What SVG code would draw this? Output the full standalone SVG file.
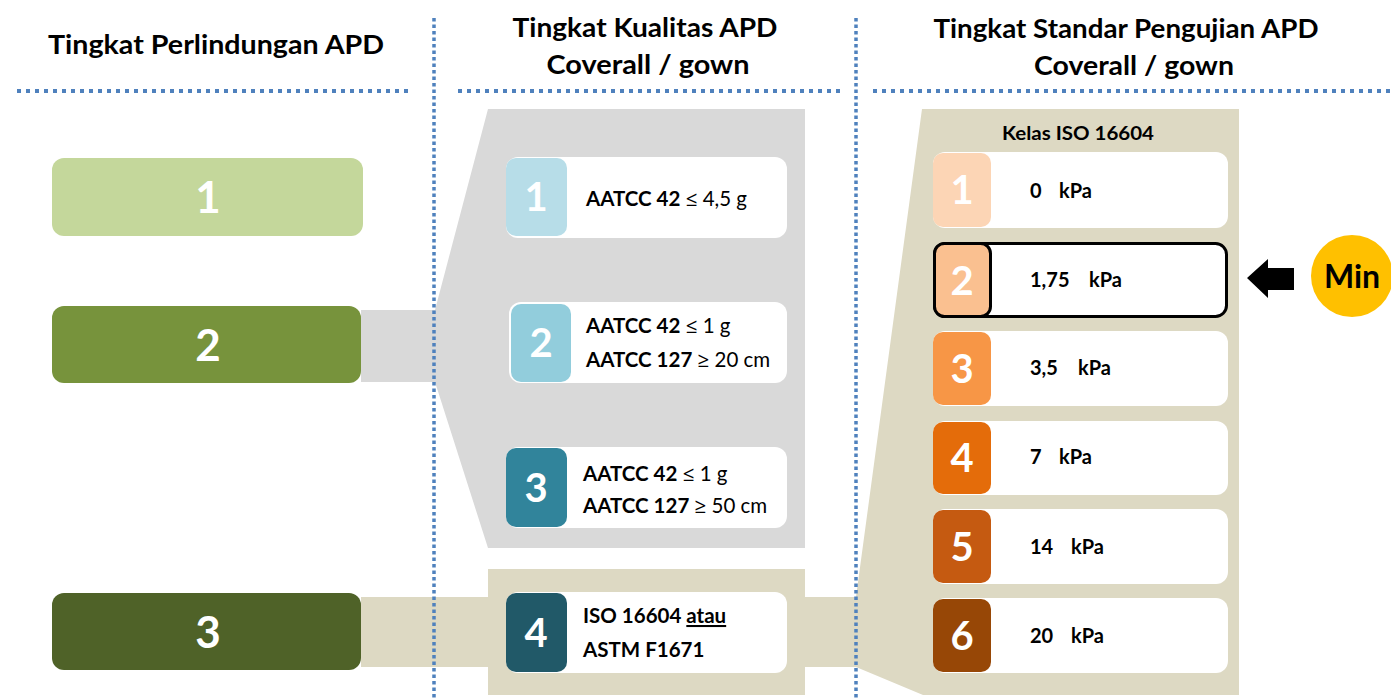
<svg xmlns="http://www.w3.org/2000/svg" width="1391" height="700" viewBox="0 0 1391 700">
<style>
text{font-family:Lato,"Open Sans","Liberation Sans",sans-serif}
.hdr{font-size:26px;font-weight:700;fill:#000;text-anchor:middle}
.big{font-weight:700;fill:#fff;text-anchor:middle}
.lnum{font-size:44px}
.mnum{font-size:40px}
.card{fill:#fff}
.t{font-size:20.5px;fill:#000}
.r{font-size:20px;fill:#000;font-weight:700}
.b{font-weight:700}
.sym{font-family:"Open Sans","Liberation Sans",sans-serif}
.hdot{stroke:#4f81bd;stroke-width:4;stroke-dasharray:4 5;fill:none}
.vdot{stroke:#4f81bd;stroke-width:3.5;stroke-dasharray:3.5 3;fill:none}
.gray{fill:#d9d9d9}
.beige{fill:#ddd9c3}
</style>

<g id="connectors">
  <polygon class="gray" points="361,310 435,310 488,109 805,109 805,548 488,548 435,382 361,382"/>
  <rect class="beige" x="361" y="597" width="130" height="70"/>
  <rect class="beige" x="488" y="569" width="317" height="126"/>
  <polygon class="beige" points="805,597 856,597 922,109 1239,109 1239,695 923,695 856,667 805,667"/>
</g>

<g id="headers">
  <text class="hdr" x="216" y="54" textLength="336" lengthAdjust="spacingAndGlyphs">Tingkat Perlindungan APD</text>
  <text class="hdr" x="645" y="37" textLength="265" lengthAdjust="spacingAndGlyphs">Tingkat Kualitas APD</text>
  <text class="hdr" x="648" y="74" textLength="203" lengthAdjust="spacingAndGlyphs">Coverall / gown</text>
  <text class="hdr" x="1126" y="38" textLength="385" lengthAdjust="spacingAndGlyphs">Tingkat Standar Pengujian APD</text>
  <text class="hdr" x="1134" y="75" textLength="200" lengthAdjust="spacingAndGlyphs">Coverall / gown</text>
</g>

<g id="level-1">
  <rect x="52" y="158" width="311" height="78" rx="12" fill="#c4d79b"/>
  <text class="big lnum" x="208" y="213">1</text>
</g>
<g id="level-2">
  <rect x="52" y="306" width="309" height="77" rx="12" fill="#77933c"/>
  <text class="big lnum" x="208" y="361">2</text>
</g>
<g id="level-3">
  <rect x="52" y="593" width="309" height="77" rx="12" fill="#4f6228"/>
  <text class="big lnum" x="208" y="648">3</text>
</g>

<g id="quality-1">
  <rect class="card" x="506" y="157" width="281" height="81" rx="12"/>
  <rect x="506" y="158" width="61" height="78" rx="10" fill="#b7dde8"/>
  <text class="big mnum" x="536" y="211">1</text>
  <text class="t" x="586" y="206"><tspan class="b">AATCC 42</tspan> <tspan class="sym">≤</tspan> 4,5 g</text>
</g>
<g id="quality-2">
  <rect class="card" x="509" y="302" width="278" height="81" rx="12"/>
  <rect x="511" y="304" width="60" height="78" rx="10" fill="#92cddc"/>
  <text class="big mnum" x="541" y="357">2</text>
  <text class="t" x="586" y="333"><tspan class="b">AATCC 42</tspan> <tspan class="sym">≤</tspan> 1 g</text>
  <text class="t" x="586" y="367"><tspan class="b">AATCC 127</tspan> <tspan class="sym">≥</tspan> 20 cm</text>
</g>
<g id="quality-3">
  <rect class="card" x="506" y="447" width="281" height="81" rx="12"/>
  <rect x="506" y="448" width="61" height="79" rx="10" fill="#31849b"/>
  <text class="big mnum" x="536" y="502">3</text>
  <text class="t" x="583" y="481"><tspan class="b">AATCC 42</tspan> <tspan class="sym">≤</tspan> 1 g</text>
  <text class="t" x="583" y="513"><tspan class="b">AATCC 127</tspan> <tspan class="sym">≥</tspan> 50 cm</text>
</g>
<g id="quality-4">
  <rect class="card" x="506" y="592" width="281" height="81" rx="12"/>
  <rect x="506" y="593" width="61" height="79" rx="10" fill="#215968"/>
  <text class="big mnum" x="536" y="647">4</text>
  <text class="t b" x="583" y="623">ISO 16604 <tspan text-decoration="underline">atau</tspan></text>
  <text class="t b" x="583" y="657">ASTM F1671</text>
</g>

<g id="iso-title">
  <text class="b" x="1078" y="140" font-size="19" text-anchor="middle" textLength="152" lengthAdjust="spacingAndGlyphs">Kelas ISO 16604</text>
</g>

<g id="iso-1">
  <rect class="card" x="933" y="152" width="295" height="76" rx="12"/>
  <rect x="933" y="153" width="58" height="74" rx="10" fill="#fcd5b5"/>
  <text class="big mnum" x="962" y="204">1</text>
  <text class="r" x="1030" y="198">0<tspan x="1059">kPa</tspan></text>
</g>
<g id="iso-2">
  <rect class="card" x="934.5" y="243.5" width="292" height="73" rx="11" stroke="#000" stroke-width="3"/>
  <rect x="934.5" y="243.5" width="56" height="73" rx="10" fill="#fac090" stroke="#000" stroke-width="3"/>
  <text class="big mnum" x="962" y="295">2</text>
  <text class="r" x="1030" y="287">1,75<tspan x="1089">kPa</tspan></text>
</g>
<g id="iso-3">
  <rect class="card" x="933" y="331" width="295" height="75" rx="12"/>
  <rect x="933" y="332" width="58" height="73" rx="10" fill="#f79646"/>
  <text class="big mnum" x="962" y="383">3</text>
  <text class="r" x="1030" y="375">3,5<tspan x="1078">kPa</tspan></text>
</g>
<g id="iso-4">
  <rect class="card" x="933" y="421" width="295" height="74" rx="12"/>
  <rect x="933" y="422" width="58" height="72" rx="10" fill="#e46c0a"/>
  <text class="big mnum" x="962" y="472">4</text>
  <text class="r" x="1030" y="464">7<tspan x="1059">kPa</tspan></text>
</g>
<g id="iso-5">
  <rect class="card" x="933" y="509" width="295" height="75" rx="12"/>
  <rect x="933" y="510" width="58" height="73" rx="10" fill="#c55a11"/>
  <text class="big mnum" x="962" y="561">5</text>
  <text class="r" x="1030" y="554">14<tspan x="1071">kPa</tspan></text>
</g>
<g id="iso-6">
  <rect class="card" x="933" y="598" width="295" height="75" rx="12"/>
  <rect x="933" y="599" width="58" height="73" rx="10" fill="#974706"/>
  <text class="big mnum" x="962" y="650">6</text>
  <text class="r" x="1030" y="643">20<tspan x="1071">kPa</tspan></text>
</g>

<g id="min-marker">
  <polygon points="1247,278 1268,259 1268,268 1294,268 1294,290 1268,290 1268,298" fill="#000"/>
  <circle cx="1352" cy="276" r="41" fill="#ffc000"/>
  <text class="b" x="1352" y="288" font-size="32" text-anchor="middle" fill="#000">Min</text>
</g>

<g id="dividers">
  <line class="hdot" x1="17" y1="91" x2="410" y2="91"/>
  <line class="hdot" x1="458" y1="91" x2="840" y2="91"/>
  <line class="hdot" x1="873" y1="91" x2="1391" y2="91"/>
  <line class="vdot" x1="434" y1="18" x2="434" y2="700"/>
  <line class="vdot" x1="856" y1="18" x2="856" y2="700"/>
</g>
</svg>
